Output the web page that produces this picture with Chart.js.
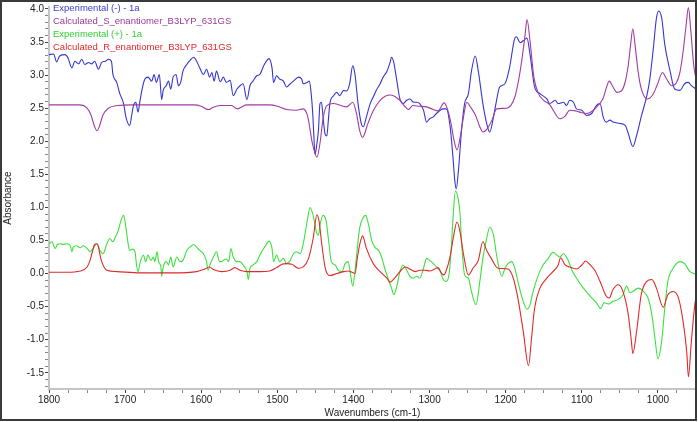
<!DOCTYPE html>
<html>
<head>
<meta charset="utf-8">
<script src="https://cdn.jsdelivr.net/npm/chart.js@4.4.0/dist/chart.umd.min.js"></script>
<style>
html,body{margin:0;padding:0;background:#fff;}
canvas{display:block;}
</style>
</head>
<body>
<canvas id="c" width="698" height="422"></canvas>
<script>
// ---- Series labels ----
const seriesLabels = [
  "Experimental (-) - 1a",
  "Calculated_S_enantiomer_B3LYP_631GS",
  "Experimental (+) - 1a",
  "Calculated_R_enantiomer_B3LYP_631GS"
];

// ---- Experimental (-) ----
const expMinusWn = [1800,1794,1790,1786,1779,1775,1770,1766,1761,1757,1753,1748,1744,1740,1735,1731,1726,1722,1718,1716,1711,1707,1702,1699,1694,1691,1689,1686,1683,1681,1678,1674,1670,1665,1662,1659,1655,1652,1650,1646,1643,1640,1637,1633,1630,1627,1624,1619,1615,1610,1606,1602,1597,1593,1589,1586,1583,1580,1575,1571,1567,1562,1558,1553,1549,1545,1540,1536,1532,1527,1523,1518,1514,1511,1507,1505,1501,1497,1492,1488,1483,1479,1472,1468,1466,1461,1458,1456,1453.5,1452,1450.5,1448,1446,1444,1442,1440,1437.5,1435,1433,1431,1426,1422,1418,1413,1409,1405,1401,1398,1394,1389,1387,1383,1378,1374,1370,1365,1361,1356,1352,1350,1347,1343,1339,1335,1330,1326,1321,1317,1313,1308,1304,1300,1295,1291,1286,1282,1278,1273,1269,1267,1265,1262,1258,1254,1249,1245,1240,1236,1230,1225,1221,1216,1212,1208,1201,1195,1188,1186,1181,1177,1172,1168,1162,1155,1146,1142,1135,1131,1124,1120,1116,1111,1107,1100,1094,1087,1081,1076,1072,1068,1063,1059,1050,1043,1039,1033,1028,1022,1015,1011,1006,1002,999,995,991,984,978,971,965,960,956,950];
const expMinusAbs = [3.31,3.32,3.20,3.29,3.31,3.26,3.11,3.21,3.17,3.24,3.16,3.19,3.17,3.21,3.09,3.19,3.21,3.24,3.21,3.01,2.89,2.72,2.57,2.37,2.24,2.42,2.54,2.59,2.44,2.57,2.77,2.94,2.97,2.91,3.01,2.89,3.01,2.63,2.77,2.84,2.91,2.79,2.97,3.01,2.84,2.89,3.06,3.16,3.22,3.27,3.21,3.11,3.01,3.09,2.97,3.04,2.91,3.06,2.90,2.97,2.89,2.92,2.69,2.79,2.84,2.87,2.63,2.84,2.91,2.99,3.01,3.14,3.22,3.25,3.11,2.89,2.99,2.94,2.91,2.82,2.87,2.91,2.97,2.94,2.87,2.89,2.91,2.77,2.42,2.07,1.80,1.97,2.17,2.57,2.59,2.37,2.12,2.08,2.32,2.57,2.69,2.74,2.69,2.77,2.76,2.87,3.14,3.01,2.57,2.24,2.22,2.37,2.57,2.67,2.77,2.87,2.97,3.06,3.19,3.27,3.19,2.91,2.64,2.57,2.62,2.64,2.59,2.59,2.57,2.47,2.29,2.34,2.37,2.42,2.47,2.49,2.49,2.22,1.72,1.42,1.28,1.57,2.17,2.57,2.72,3.06,3.29,3.06,2.57,2.27,2.14,2.37,2.62,2.82,2.87,3.11,3.56,3.58,3.49,3.52,3.56,3.31,2.82,2.72,2.64,2.57,2.62,2.57,2.59,2.54,2.62,2.59,2.49,2.47,2.39,2.42,2.54,2.57,2.37,2.29,2.32,2.29,2.27,2.24,2.12,1.92,2.09,2.37,2.67,2.91,3.41,3.86,3.97,3.86,3.46,3.06,2.79,2.77,2.87,2.89,2.84,2.79];

// ---- Calculated S enantiomer ----
const calcSWn = [1800,1760,1750,1745,1740,1737,1734,1729,1722,1710,1690,1610,1600,1594,1590,1585,1575,1560,1556,1552,1547,1540,1510,1500,1488,1475,1466,1460,1454,1448,1444,1440,1435,1426,1409,1401,1396,1392,1388,1381,1374,1365,1352,1339,1332,1328,1322,1313,1304,1295,1289,1281,1277,1272,1268,1264,1260,1255,1251,1247,1240,1234,1230,1225,1218,1212,1199,1188,1181,1175,1172,1168,1163,1157,1150,1142,1135,1129,1122,1116,1108,1100,1094,1087,1078,1072,1068,1064,1059,1054,1048,1043,1039,1036,1033,1030,1026,1022,1014,1007,1001,994,989,982,976,971,967,963,960,957,953,950];
const calcSAbs = [2.55,2.55,2.50,2.40,2.22,2.16,2.22,2.40,2.50,2.54,2.55,2.55,2.53,2.49,2.48,2.51,2.54,2.54,2.51,2.49,2.52,2.55,2.55,2.53,2.48,2.47,2.49,2.37,1.97,1.76,1.97,2.34,2.54,2.57,2.52,2.59,2.42,2.17,2.06,2.27,2.46,2.62,2.70,2.62,2.52,2.48,2.54,2.53,2.52,2.48,2.46,2.58,2.50,2.28,2.02,1.87,2.05,2.40,2.59,2.53,2.40,2.22,2.14,2.18,2.32,2.49,2.50,2.67,3.06,3.56,3.84,3.51,2.97,2.72,2.62,2.55,2.42,2.34,2.38,2.47,2.46,2.43,2.42,2.45,2.55,2.65,2.80,2.91,2.82,2.74,2.76,2.90,3.15,3.45,3.70,3.45,3.05,2.80,2.64,2.70,2.85,3.04,2.95,2.84,2.88,3.05,3.35,3.75,4.02,3.70,3.15,2.94];

// ---- Experimental (+) ----
const expPlusWn = [1800,1796,1792,1789,1785,1781,1777,1772,1770,1768,1764,1759,1755,1750,1746,1742,1737,1733,1729,1724,1720,1716,1713,1709,1706,1702,1699,1696,1694,1690,1687,1685,1683,1680,1676,1673,1670,1666,1663,1661,1658,1656,1653,1652,1650,1646,1643,1640,1637,1632,1628,1624,1619,1615,1610,1606,1602,1597,1593,1591,1588,1584,1580,1576,1573,1571,1567,1564,1561,1558,1553,1549,1545,1540,1538,1536,1532,1527,1523,1518,1514,1511,1507,1505,1501,1497,1492,1488,1483,1479,1475,1470,1466,1461,1457,1453,1448,1446,1444,1440,1436,1433,1429,1424,1420,1415,1411,1407,1404,1401,1398,1395,1392,1387,1384,1381,1376,1372,1367,1363,1359,1354,1350,1347,1343,1339,1335,1330,1326,1321,1317,1313,1308,1304,1300,1295,1291,1286,1282,1278,1274,1271,1269,1266,1262,1260,1258,1254,1249,1245,1239,1234,1230,1225,1221,1216,1212,1205,1201,1197,1192,1188,1184,1177,1172,1168,1164,1157,1151,1144,1138,1133,1129,1124,1118,1113,1107,1098,1089,1081,1075,1071,1065,1059,1052,1046,1041,1037,1033,1026,1019,1013,1008,1004,1000,995,991,987,980,971,965,958,950];
const expPlusAbs = [0.45,0.48,0.38,0.44,0.45,0.44,0.45,0.42,0.33,0.40,0.42,0.39,0.42,0.38,0.33,0.38,0.45,0.35,0.30,0.45,0.53,0.48,0.55,0.65,0.78,0.88,0.70,0.45,0.35,0.37,0.33,0.13,0.03,0.18,0.28,0.18,0.28,0.20,0.25,0.18,0.33,0.18,0.10,-0.04,0.10,0.18,0.13,0.25,0.10,0.25,0.18,0.20,0.35,0.40,0.44,0.40,0.35,0.30,0.18,0.05,0.15,0.25,0.33,0.18,0.18,0.20,0.22,0.18,0.38,0.25,0.18,0.18,0.13,0.03,-0.09,0.08,0.13,0.18,0.28,0.38,0.45,0.49,0.38,0.18,0.28,0.18,0.23,0.15,0.20,0.30,0.33,0.30,0.45,0.78,1.00,0.88,0.60,0.58,0.73,0.88,0.80,0.53,0.18,0.13,0.05,0.03,0.15,0.18,0.00,-0.19,0.03,0.38,0.68,0.85,0.88,0.78,0.50,0.40,0.35,0.25,0.08,-0.09,-0.22,-0.32,-0.19,0.03,0.13,0.05,-0.04,-0.07,-0.04,-0.07,0.08,0.23,0.20,0.15,0.10,0.03,-0.09,-0.12,0.03,0.48,0.88,1.25,1.10,0.90,0.48,-0.02,-0.07,-0.27,-0.47,-0.12,0.23,0.53,0.70,0.58,0.28,-0.04,0.08,0.15,0.18,0.08,-0.12,-0.42,-0.54,-0.47,-0.27,-0.02,0.13,0.23,0.32,0.28,0.25,0.30,0.20,0.05,-0.07,-0.22,-0.34,-0.44,-0.53,-0.44,-0.46,-0.42,-0.39,-0.32,-0.19,-0.29,-0.27,-0.22,-0.27,-0.37,-0.62,-0.97,-1.29,-1.01,-0.52,-0.12,0.08,0.18,0.15,0.03,-0.01];

// ---- Calculated R enantiomer ----
const calcRWn = [1800,1777,1759,1750,1746,1743,1740,1737,1735,1732,1729,1724,1711,1680,1637,1606,1597,1589,1584,1573,1562,1556,1549,1540,1523,1510,1501,1494,1488,1481,1472,1466,1459,1453,1448,1445,1442,1437,1431,1422,1413,1407,1402,1398,1395,1392,1388,1383,1374,1365,1356,1352,1346,1339,1332,1326,1319,1313,1306,1300,1293,1289,1284,1281,1278,1273,1269,1264,1260,1256,1249,1243,1236,1230,1225,1219,1210,1197,1190,1184,1177,1170,1166,1162,1155,1146,1138,1131,1128,1122,1116,1107,1100,1095,1089,1083,1076,1068,1064,1059,1052,1046,1039,1035,1033,1028,1022,1015,1008,1002,993,987,980,973,967,962,960,956,951,950];
const calcRAbs = [0.02,0.02,0.04,0.10,0.20,0.33,0.44,0.45,0.40,0.23,0.13,0.05,0.03,0.01,0.01,0.03,0.06,0.10,0.06,0.03,0.05,0.09,0.05,0.03,0.03,0.04,0.09,0.14,0.15,0.14,0.08,0.10,0.23,0.53,0.89,0.78,0.48,0.08,-0.03,0.00,0.03,0.04,0.02,0.00,0.23,0.43,0.57,0.38,0.15,0.03,-0.07,-0.13,-0.07,0.03,0.10,0.07,0.03,0.05,0.05,0.04,0.07,0.09,0.00,-0.02,0.05,0.26,0.53,0.78,0.63,0.33,-0.02,0.08,0.20,0.48,0.35,0.23,0.08,0.07,-0.07,-0.37,-0.87,-1.39,-0.97,-0.52,-0.22,-0.07,0.03,0.13,0.24,0.13,0.10,0.07,0.13,0.19,0.13,0.05,-0.12,-0.34,-0.37,-0.24,-0.17,-0.27,-0.62,-1.01,-1.21,-0.87,-0.32,-0.12,-0.09,-0.22,-0.51,-0.32,-0.27,-0.37,-0.72,-1.21,-1.56,-1.01,-0.42,-0.37];

// ---- Axis tick labels ----
const xTickLabels = [1800,1700,1600,1500,1400,1300,1200,1100,1000];
const yTickLabels = [-1.5,-1.0,-0.5,0.0,0.5,1.0,1.5,2.0,2.5,3.0,3.5,4.0];
const xTitle = "Wavenumbers (cm-1)";
const yTitle = "Absorbance";

const colors = ["#3535d2", "#a23ba2", "#3ee03e", "#e02a2a"];
const textColors = ["#3a3ad0", "#9a3a9a", "#30d030", "#e02a2a"];

function pts(wn, ab){ return wn.map((w,i)=>({x:w, y:ab[i]})); }

const FONT = '"Liberation Sans", Arial, sans-serif';
Chart.defaults.font.family = FONT;
Chart.defaults.font.size = 10;
Chart.defaults.color = '#222';

const frameAndLegend = {
  id: 'frameAndLegend',
  afterDraw(chart){
    const ctx = chart.ctx;
    ctx.save();
    ctx.font = '9.5px ' + FONT;
    ctx.textBaseline = 'middle';
    ctx.textAlign = 'left';
    chart.data.datasets.forEach((ds, i) => {
      ctx.fillStyle = textColors[i];
      ctx.fillText(ds.label, 53, 8 + i * 13);
    });
    ctx.strokeStyle = '#3a3a3a';
    ctx.lineWidth = 2;
    ctx.strokeRect(1, 1, 695, 419);
    ctx.restore();
  }
};

const datasets = [
  {label: seriesLabels[0], data: pts(expMinusWn, expMinusAbs), borderColor: colors[0], order: 3},
  {label: seriesLabels[1], data: pts(calcSWn, calcSAbs), borderColor: colors[1], order: 2},
  {label: seriesLabels[2], data: pts(expPlusWn, expPlusAbs), borderColor: colors[2], order: 1},
  {label: seriesLabels[3], data: pts(calcRWn, calcRAbs), borderColor: colors[3], order: 0}
].map(d => Object.assign(d, {borderWidth: 1.1, pointRadius: 0, fill: false, cubicInterpolationMode: 'monotone'}));

new Chart(document.getElementById('c'), {
  type: 'line',
  data: {datasets},
  options: {
    responsive: false,
    animation: false,
    devicePixelRatio: 1,
    layout: {padding: {top: 3, right: 2, left: 0, bottom: 0}},
    plugins: {legend: {display: false}, tooltip: {enabled: false}},
    scales: {
      x: {
        type: 'linear',
        reverse: true,
        min: 950, max: 1800,
        afterFit(s){ s.height = 33; },
        afterBuildTicks(s){
          const t = [];
          for (let v = 950; v <= 1800; v += 25) t.push({value: v});
          s.ticks = t;
        },
        ticks: {
          autoSkip: false, maxRotation: 0, padding: 1, color: '#222',
          font: {size: 10},
          callback: (v) => xTickLabels.includes(v) ? String(v) : ''
        },
        grid: {
          drawOnChartArea: false, drawTicks: true, tickLength: 4,
          tickColor: (c) => xTickLabels.includes(c.tick && c.tick.value) ? '#444' : '#888',
          tickWidth: 1
        },
        border: {display: true, color: '#c4c4c4', width: 2},
        title: {display: true, text: xTitle, color: '#222', font: {size: 10}, padding: {top: 0, bottom: 3}}
      },
      y: {
        type: 'linear',
        min: -1.745, max: 4.03,
        afterFit(s){ s.width = 49; },
        afterBuildTicks(s){
          const t = [];
          for (let k = -17; k <= 40; k++) t.push({value: k / 10});
          s.ticks = t;
        },
        ticks: {
          autoSkip: false, padding: 1, color: '#222',
          font: {size: 10},
          callback: (v) => {
            const m = yTickLabels.find(y => Math.abs(y - v) < 1e-6);
            return m === undefined ? '' : m.toFixed(1);
          }
        },
        grid: {
          drawOnChartArea: false, drawTicks: true, tickLength: 4,
          tickColor: (c) => {
            const v = c.tick ? c.tick.value : NaN;
            return yTickLabels.some(y => Math.abs(y - v) < 1e-6) ? '#444' : '#888';
          },
          tickWidth: 1
        },
        border: {display: true, color: '#c4c4c4', width: 2},
        title: {display: true, text: yTitle, color: '#222', font: {size: 10}, padding: {top: 2.5, bottom: 0}}
      }
    }
  },
  plugins: [frameAndLegend]
});
</script>
</body>
</html>
